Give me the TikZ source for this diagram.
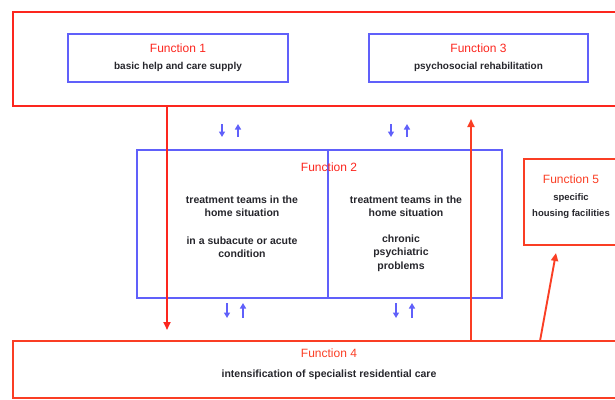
\documentclass[tikz,border=0pt]{standalone}
\usepackage{fontspec}
\setmainfont{Liberation Sans}
\usetikzlibrary{arrows.meta,positioning}
\definecolor{alarm}{RGB}{252,38,30}
\definecolor{flame}{RGB}{250,62,36}
\definecolor{iris}{RGB}{96,96,250}
\definecolor{ink}{RGB}{38,38,44}
\tikzset{
  >={Triangle[length=8pt,width=7pt]},
  frame/.style={draw=#1,line width=2.3pt,inner sep=0pt},
  frame/.default=alarm,
  panel/.style={draw=iris,line width=2pt,inner sep=0pt,align=center,text=ink,
    font=\fontsize{10}{13}\selectfont\bfseries},
  title/.style={text=alarm,font=\fontsize{12}{14}\selectfont},
  body/.style={text=ink,align=center,font=\fontsize{10.5}{13.5}\selectfont\bfseries},
  flow/.style={->,line width=1.9pt,draw=#1},
  flow/.default=alarm,
  swap/.style={-{Triangle[length=5.5pt,width=6pt]},line width=2pt,draw=iris},
}
\begin{document}
\begin{tikzpicture}[x=1pt,y=-1pt]
  \useasboundingbox (0,0) rectangle (615,399);
  \clip (0,0) rectangle (615,399);
  % outer care frames
  \node[frame,minimum width=627pt,minimum height=94pt] (care) at (326.5,59) {};
  \node[frame=flame,minimum width=627pt,minimum height=57pt] (f4) at (326.5,369.5) {};
  \node[frame=flame,minimum width=116pt,minimum height=86pt] (f5) at (582,202) {};
  % function panels
  \node[panel,minimum width=220pt,minimum height=48pt] (f1) at (178,58)
    {\textcolor{alarm}{\fontsize{12}{14}\selectfont\mdseries Function 1}\\[4pt]basic help and care supply};
  \node[panel,minimum width=219pt,minimum height=48pt] (f3) at (478.5,58)
    {\textcolor{alarm}{\fontsize{12}{14}\selectfont\mdseries Function 3}\\[4pt]psychosocial rehabilitation};
  \node[panel,minimum width=191pt,minimum height=148pt] (acute) at (232.5,224) {};
  \node[panel,minimum width=174pt,minimum height=148pt] (chronic) at (415,224) {};
  \node[title] (t2) at (329,167) {Function 2};
  \node[body] (acute1) at (242,206) {treatment teams in the\\home situation};
  \node[body] (acute2) at (242,247) {in a subacute or acute\\condition};
  \node[body] (chronic1) at (406,206) {treatment teams in the\\home situation};
  \node[body] (chronic2) at (401,253) {chronic\\psychiatric\\problems};
  \node[body,font=\fontsize{9.5}{12.5}\selectfont\bfseries] (t5) at (571,197)
    {\textcolor{flame}{\fontsize{12}{14}\selectfont\mdseries Function 5}\\[4pt]specific\\[4pt]housing facilities};
  \node[body] (t4) at (329,364) {\textcolor{flame}{\fontsize{12}{14}\selectfont\mdseries Function 4}\\[6pt]intensification of specialist residential care};
  % red connectors
  \coordinate (down) at (167,330);
  \coordinate (up) at (471,119);
  \coordinate (foot) at (540,341);
  \coordinate (head) at (556,253);
  \draw[flow] (care.south -| down) -- (down);
  \draw[flow=flame] (f4.north -| up) -- (up);
  \draw[flow=flame] (foot) -- (head);
  % exchange arrows
  \foreach \x/\y/\h [count=\i] in {222/124/13,391/124/13,227/303/15,396/303/15} {
    \coordinate (a\i) at (\x,\y);
    \coordinate (b\i) at (\x,\y+\h);
    \coordinate (c\i) at (\x+16,\y+\h);
    \coordinate (d\i) at (\x+16,\y);
    \draw[swap] (a\i) -- (b\i);
    \draw[swap] (c\i) -- (d\i);
  }
\end{tikzpicture}
\end{document}
